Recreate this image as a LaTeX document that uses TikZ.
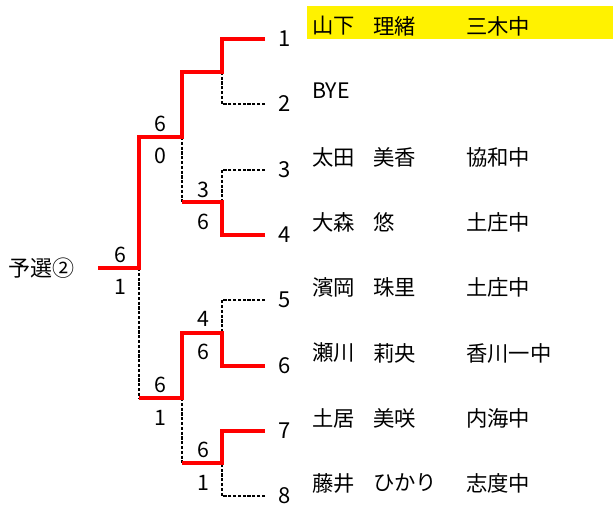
\documentclass[tikz,border=0pt]{standalone}
\usepackage{fontspec}
\setmainfont{Noto Sans CJK JP}

\begin{document}
\begin{tikzpicture}[x=0.75pt,y=-0.75pt,line join=miter,
		win/.style={color=red,line width=2.3pt},
		lose/.style={color=black,line width=1.1pt,dash pattern=on 2.4pt off 1.2pt},
		score/.style={inner sep=0pt,font=\fontsize{16}{18}\selectfont},
		seed/.style={inner sep=0pt,font=\fontsize{16.5}{18}\selectfont},
		player/.style={anchor=west,inner sep=0pt,font=\fontsize{16}{18}\selectfont}]
	\useasboundingbox (0,0) rectangle (613,506);
	% winner row
	\fill[yellow] (307,6) rectangle (613,39);
	% draw numbers and line ends
	\foreach \i/\y in {1/39,2/104,3/170,4/235,5/300,6/366,7/431,8/496} {
		\node[seed] (n\i) at (285,\y) {\i};
		\coordinate (e\i) at (265,\y);
	}
	% junctions
	\coordinate (ja) at (222,72);
	\coordinate (jb) at (222,202);
	\coordinate (jc) at (222,333);
	\coordinate (jd) at (222,463);
	\coordinate (ka) at (182,137);
	\coordinate (kb) at (182,398);
	\coordinate (fin) at (139,268);
	\node[anchor=west,inner sep=0pt,font=\fontsize{16.5}{18}\selectfont] (title) at (8,268) {予選②};
	\coordinate (start) at (98,268);
	% losers
	\draw[lose] (e2) -| (ja);
	\draw[lose] (e3) -| (jb);
	\draw[lose] (ka) -- (jb -| ka);
	\draw[lose] (e5) -| (jc);
	\draw[lose] (e8) -| (jd);
	\draw[lose] (kb) -- (jd -| kb);
	\draw[lose] (fin) -- (kb -| fin);
	% winners
	\draw[win] (e1) -| (ja) -| (ka) -| (fin) -- (start);
	\draw[win] (e4) -| (jb) -- (jb -| ka);
	\draw[win] (e6) -| (jc) -| (kb) -- (kb -| fin);
	\draw[win] (e7) -| (jd) -- (jd -| kb);
	% scores
	\node[score] (s1) at (160,124) {6};
	\node[score] (s2) at (160,156) {0};
	\node[score] (s3) at (203,190) {3};
	\node[score] (s4) at (203,222) {6};
	\node[score] (s5) at (120,255) {6};
	\node[score] (s6) at (120,287) {1};
	\node[score] (s7) at (203,319) {4};
	\node[score] (s8) at (203,352) {6};
	\node[score] (s9) at (160,385) {6};
	\node[score] (s10) at (160,418) {1};
	\node[score] (s11) at (203,450) {6};
	\node[score] (s12) at (203,483) {1};
	% players
	\foreach \i/\y/\sur/\giv/\sch in {1/26/山下/理緒/三木中,3/157/太田/美香/協和中,
		4/222/大森/悠/土庄中,5/287/濱岡/珠里/土庄中,6/353/瀬川/莉央/香川一中,
		7/418/土居/美咲/内海中,8/483/藤井/ひかり/志度中} {
		\node[player] (sur\i) at (312,\y) {\sur};
		\node[player] (giv\i) at (373,\y) {\giv};
		\node[player] (sch\i) at (466,\y) {\sch};
	}
	\node[player] (bye) at (312,91) {BYE};
\end{tikzpicture}
\end{document}
